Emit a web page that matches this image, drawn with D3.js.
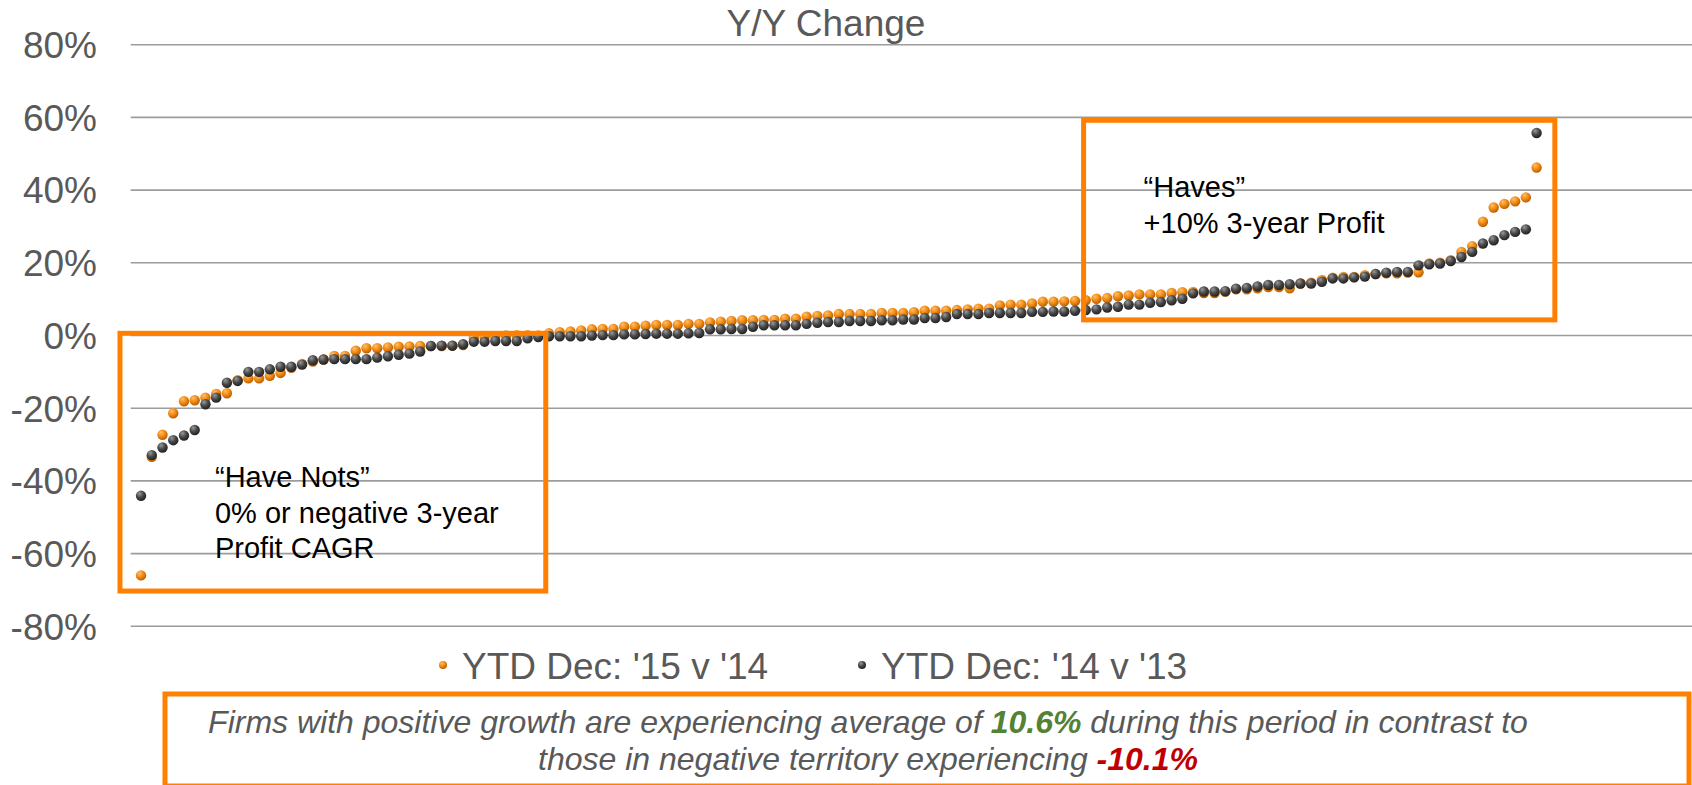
<!DOCTYPE html>
<html>
<head>
<meta charset="utf-8">
<script src="https://cdn.jsdelivr.net/npm/d3@7"></script>
<style>
  body { margin: 0; background: #fff; }
  svg { display: block; font-family: "Liberation Sans", Arial, sans-serif; }
</style>
</head>
<body>
<script>
// Y/Y change per firm, in %, firms ordered left to right (131 firms)
const ytd15v14 = [
  -66.0, -33.4, -27.3, -21.4, -18.1, -17.8, -17.1, -16.1, -15.9, -12.3,
  -11.8, -11.8, -11.1, -10.3, -8.9, -7.8, -7.2, -6.6, -5.6, -5.6,
  -4.2, -3.5, -3.5, -3.3, -3.1, -3.0, -2.9, -2.9, -2.9, -2.8,
  -2.6, -0.7, -0.4, -0.2, 0.0, 0.1, 0.1, 0.0, 0.6, 0.9,
  1.1, 1.4, 1.7, 1.8, 1.8, 2.4, 2.4, 2.7, 2.9, 2.9,
  2.9, 3.2, 3.2, 3.6, 3.8, 4.0, 4.2, 4.2, 4.3, 4.3,
  4.6, 4.6, 5.2, 5.4, 5.5, 5.9, 5.9, 5.9, 5.9, 6.2,
  6.2, 6.2, 6.4, 6.8, 6.8, 6.8, 7.0, 7.2, 7.4, 7.4,
  8.3, 8.5, 8.5, 8.8, 9.3, 9.3, 9.4, 9.5, 9.7, 10.1,
  10.3, 10.8, 11.0, 11.3, 11.3, 11.3, 11.7, 11.9, 12.0, 11.7,
  11.7, 12.0, 12.7, 12.7, 13.0, 13.3, 13.3, 13.0, 14.3, 14.5,
  15.3, 15.9, 16.1, 16.1, 16.6, 16.9, 17.1, 17.1, 17.3, 17.4,
  19.8, 20.0, 20.7, 23.0, 24.6, 31.3, 35.2, 36.2, 36.9, 38.0,
  46.2
];
const ytd14v13 = [
  -44.1, -32.9, -30.8, -28.8, -27.5, -26.0, -18.9, -17.1, -13.0, -12.5,
  -10.0, -10.0, -9.3, -8.6, -8.6, -8.0, -6.8, -6.6, -6.5, -6.5,
  -6.5, -6.5, -6.1, -5.7, -5.3, -5.0, -4.4, -2.9, -2.8, -2.8,
  -2.4, -1.7, -1.7, -1.5, -1.5, -1.5, -0.8, -0.4, -0.2, -0.2,
  -0.2, -0.2, 0.0, 0.1, 0.1, 0.3, 0.3, 0.4, 0.5, 0.5,
  0.5, 0.6, 0.7, 1.7, 1.7, 1.8, 1.8, 2.4, 2.8, 2.8,
  2.8, 2.8, 3.2, 3.5, 3.7, 3.7, 4.0, 4.0, 4.0, 4.2,
  4.2, 4.4, 4.4, 4.8, 4.8, 5.1, 5.9, 5.9, 5.9, 6.2,
  6.2, 6.2, 6.2, 6.5, 6.5, 6.6, 6.6, 6.8, 7.0, 7.2,
  7.7, 7.9, 8.5, 8.5, 9.0, 9.2, 9.7, 10.1, 11.6, 12.1,
  12.1, 12.2, 12.9, 13.1, 13.5, 13.9, 13.9, 14.1, 14.3, 14.3,
  14.8, 15.7, 15.7, 16.0, 16.2, 16.9, 17.3, 17.5, 17.5, 19.3,
  19.6, 19.8, 20.5, 21.6, 23.0, 25.3, 26.2, 27.6, 28.5, 29.2,
  55.7
];
const yTicks = [-80, -60, -40, -20, 0, 20, 40, 60, 80];
const seriesNames = ["YTD Dec: '15 v '14", "YTD Dec: '14 v '13"];

// annotation boxes in data units: [x0, x1, y0, y1]
const haveNotsBox = [-0.96, 38.7, 0.6, -70.3];
const havesBox = [88.8, 132.7, 59.2, 4.3];
const haveNotsText = ["\u201CHave Nots\u201D", "0% or negative 3-year", "Profit CAGR"];
const havesText = ["\u201CHaves\u201D", "+10% 3-year Profit"];

const width = 1692;
const height = 785;
const orange = "#ff8000";
const grey = "#595959";

const x = d3.scaleLinear().domain([0, 145]).range([130.3, 1686.9]);
const y = d3.scaleLinear().domain([-80, 80]).range([626.3, 44.7]);

const svg = d3.create("svg")
    .attr("width", width)
    .attr("height", height)
    .attr("viewBox", `0 0 ${width} ${height}`);

// shaded ball look for the markers
const defs = svg.append("defs");
const balls = [
  {id: "ballOrange", stops: ["#ffc070", "#f28a10", "#b85e00"]},
  {id: "ballDark", stops: ["#9a9a9a", "#474747", "#222222"]}
];
balls.forEach(b => {
  const g = defs.append("radialGradient")
      .attr("id", b.id)
      .attr("cx", "40%").attr("cy", "35%").attr("r", "65%")
      .attr("fx", "35%").attr("fy", "28%");
  g.append("stop").attr("offset", "0%").attr("stop-color", b.stops[0]);
  g.append("stop").attr("offset", "55%").attr("stop-color", b.stops[1]);
  g.append("stop").attr("offset", "100%").attr("stop-color", b.stops[2]);
});

// gridlines + tick labels
svg.append("g")
  .selectAll("line")
  .data(yTicks)
  .join("line")
    .attr("x1", 130.7)
    .attr("x2", width)
    .attr("y1", d => y(d))
    .attr("y2", d => y(d))
    .attr("stroke", "#9c9c9c")
    .attr("stroke-width", 1.6);

svg.append("g")
    .attr("fill", grey)
    .style("font-size", "37px")
    .attr("text-anchor", "end")
  .selectAll("text")
  .data(yTicks)
  .join("text")
    .attr("x", 97)
    .attr("y", d => y(d) + 13.3)
    .text(d => d + "%");

svg.append("text")
    .attr("x", 826)
    .attr("y", 35.5)
    .attr("text-anchor", "middle")
    .attr("fill", grey)
    .style("font-size", "37px")
    .text("Y/Y Change");

// points: orange first, dark on top
const series = [
  {values: ytd15v14, fill: "url(#ballOrange)"},
  {values: ytd14v13, fill: "url(#ballDark)"}
];
series.forEach(s => {
  svg.append("g")
    .selectAll("circle")
    .data(s.values)
    .join("circle")
      .attr("cx", (d, i) => x(i + 1))
      .attr("cy", d => y(d))
      .attr("r", 5.2)
      .attr("fill", s.fill);
});

// annotation boxes
function box(b, lines, tx, ty) {
  svg.append("rect")
      .attr("x", x(b[0]))
      .attr("y", y(b[2]))
      .attr("width", x(b[1]) - x(b[0]))
      .attr("height", y(b[3]) - y(b[2]))
      .attr("fill", "none")
      .attr("stroke", orange)
      .attr("stroke-width", 5);
  svg.append("g")
      .style("font-size", "29px")
      .attr("fill", "#000")
    .selectAll("text")
    .data(lines)
    .join("text")
      .attr("x", x(b[0]) + tx)
      .attr("y", (d, i) => y(b[2]) + ty + i * 35.5)
      .text(d => d);
}
box(haveNotsBox, haveNotsText, 95, 154);
box(havesBox, havesText, 60, 77);

// legend
const legend = svg.append("g").style("font-size", "37px").attr("fill", grey);
const legendX = [443, 862];
seriesNames.forEach((name, i) => {
  legend.append("circle")
      .attr("cx", legendX[i])
      .attr("cy", 665)
      .attr("r", 4)
      .attr("fill", series[i].fill);
  legend.append("text")
      .attr("x", legendX[i] + 19)
      .attr("y", 679)
      .text(name);
});

// footnote box
svg.append("rect")
    .attr("x", 165)
    .attr("y", 694)
    .attr("width", 1524)
    .attr("height", 92)
    .attr("fill", "none")
    .attr("stroke", orange)
    .attr("stroke-width", 5);

const note = svg.append("g")
    .attr("text-anchor", "middle")
    .style("font-size", "32px")
    .style("font-style", "italic")
    .attr("fill", grey);

const line1 = note.append("text").attr("x", 868).attr("y", 733);
line1.append("tspan").text("Firms with positive growth are experiencing average of ");
line1.append("tspan").attr("fill", "#548235").style("font-weight", "bold").text("10.6%");
line1.append("tspan").text(" during this period in contrast to");

const line2 = note.append("text").attr("x", 868).attr("y", 770);
line2.append("tspan").text("those in negative territory experiencing ");
line2.append("tspan").attr("fill", "#c00000").style("font-weight", "bold").text("-10.1%");

document.body.appendChild(svg.node());
</script>
</body>
</html>
